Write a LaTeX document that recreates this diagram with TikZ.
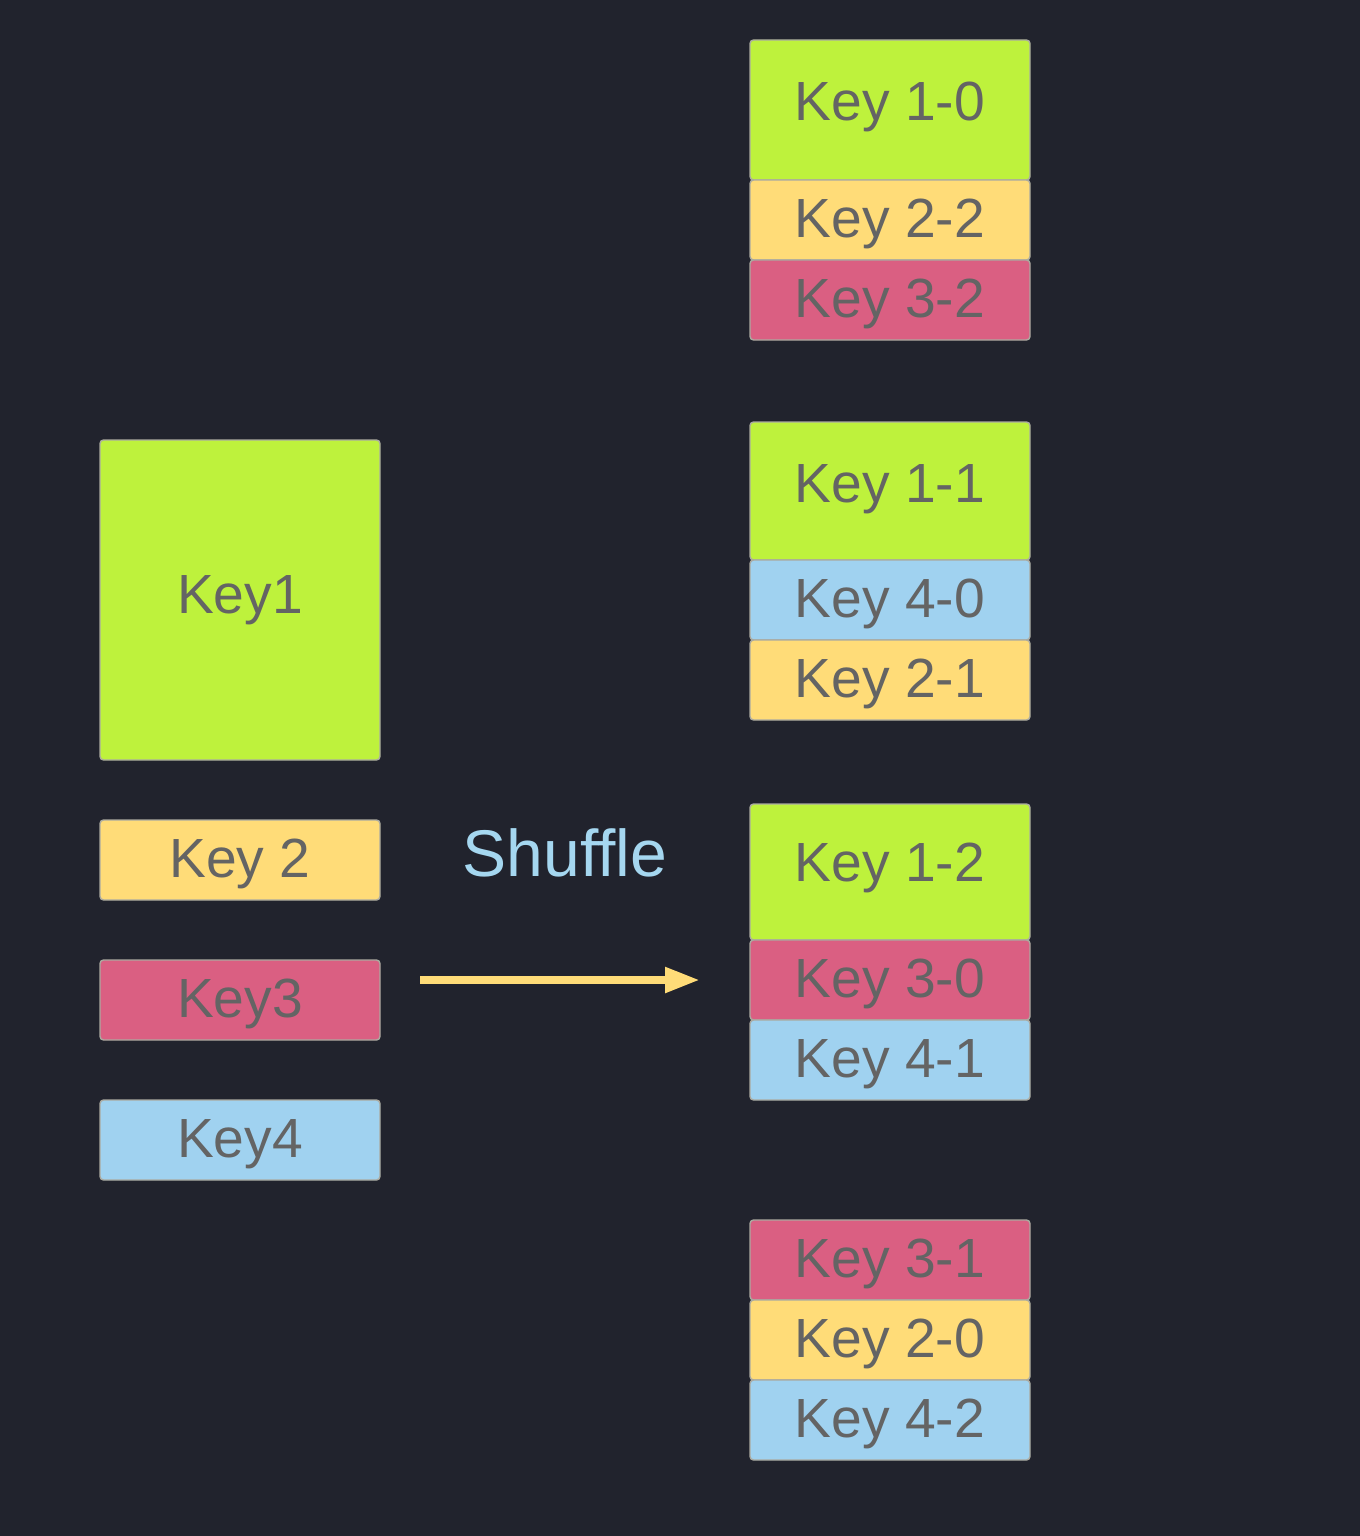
\documentclass[tikz,border=0pt]{standalone}
\usepackage{fontspec}
\setmainfont{Liberation Sans}
\usetikzlibrary{positioning,arrows.meta}

\definecolor{bg}{RGB}{33,35,45}
\definecolor{keygreen}{RGB}{190,242,60}
\definecolor{keyyellow}{RGB}{255,220,120}
\definecolor{keypink}{RGB}{218,95,130}
\definecolor{keyblue}{RGB}{160,210,240}
\definecolor{keytext}{RGB}{100,100,100}
\definecolor{keyline}{RGB}{170,170,160}
\definecolor{shuffleblue}{RGB}{165,215,240}

\tikzset{
  keybox/.style={draw=keyline, line width=0.4pt, rounded corners=1pt, minimum width=2.8cm, minimum height=0.8cm,
    inner sep=0pt, outer sep=0pt, text=keytext, text height=0.46cm, font=\fontsize{15.7}{18}\selectfont},
  bigbox/.style={keybox, fill=keygreen, minimum height=1.38cm, text depth=0.24cm},
  ybox/.style={keybox, fill=keyyellow},
  pbox/.style={keybox, fill=keypink},
  bbox/.style={keybox, fill=keyblue}
}

\begin{document}
\begin{tikzpicture}
\fill[bg] (0,0) rectangle (13.6,-15.36);
\useasboundingbox (0,0) rectangle (13.6,-15.36);

% input keys
\node[keybox, fill=keygreen, minimum height=3.2cm, text depth=0.2cm] (key1) at (2.4,-6.0) {Key1};
\node[ybox] (key2) at (2.4,-8.6) {Key 2};
\node[pbox] (key3) at (2.4,-10.0) {Key3};
\node[bbox] (key4) at (2.4,-11.4) {Key4};

% shuffle
\node[text=shuffleblue, font=\fontsize{18.8}{22}\selectfont] (shuffle) at (5.65,-8.53) {Shuffle};
\coordinate (a0) at (4.2,-9.8);
\coordinate (a1) at (7.0,-9.8);
\draw[keyyellow, line width=0.08cm, -{Triangle[length=0.35cm,width=0.24cm]}] (a0) -- (a1);

% partitions
\node[bigbox, minimum height=1.4cm] (k10) at (8.9,-1.1) {Key 1-0};
\node[ybox, below=0pt of k10] (k22) {Key 2-2};
\node[pbox, below=0pt of k22] (k32) {Key 3-2};

\node[bigbox] (k11) at (8.9,-4.91) {Key 1-1};
\node[bbox, below=0pt of k11] (k40) {Key 4-0};
\node[ybox, below=0pt of k40] (k21) {Key 2-1};

\node[bigbox, minimum height=1.36cm, text depth=0.28cm] (k12) at (8.9,-8.72) {Key 1-2};
\node[pbox, below=0pt of k12] (k30) {Key 3-0};
\node[bbox, below=0pt of k30] (k41) {Key 4-1};

\node[pbox] (k31) at (8.9,-12.6) {Key 3-1};
\node[ybox, below=0pt of k31] (k20) {Key 2-0};
\node[bbox, below=0pt of k20] (k42) {Key 4-2};
\end{tikzpicture}
\end{document}
